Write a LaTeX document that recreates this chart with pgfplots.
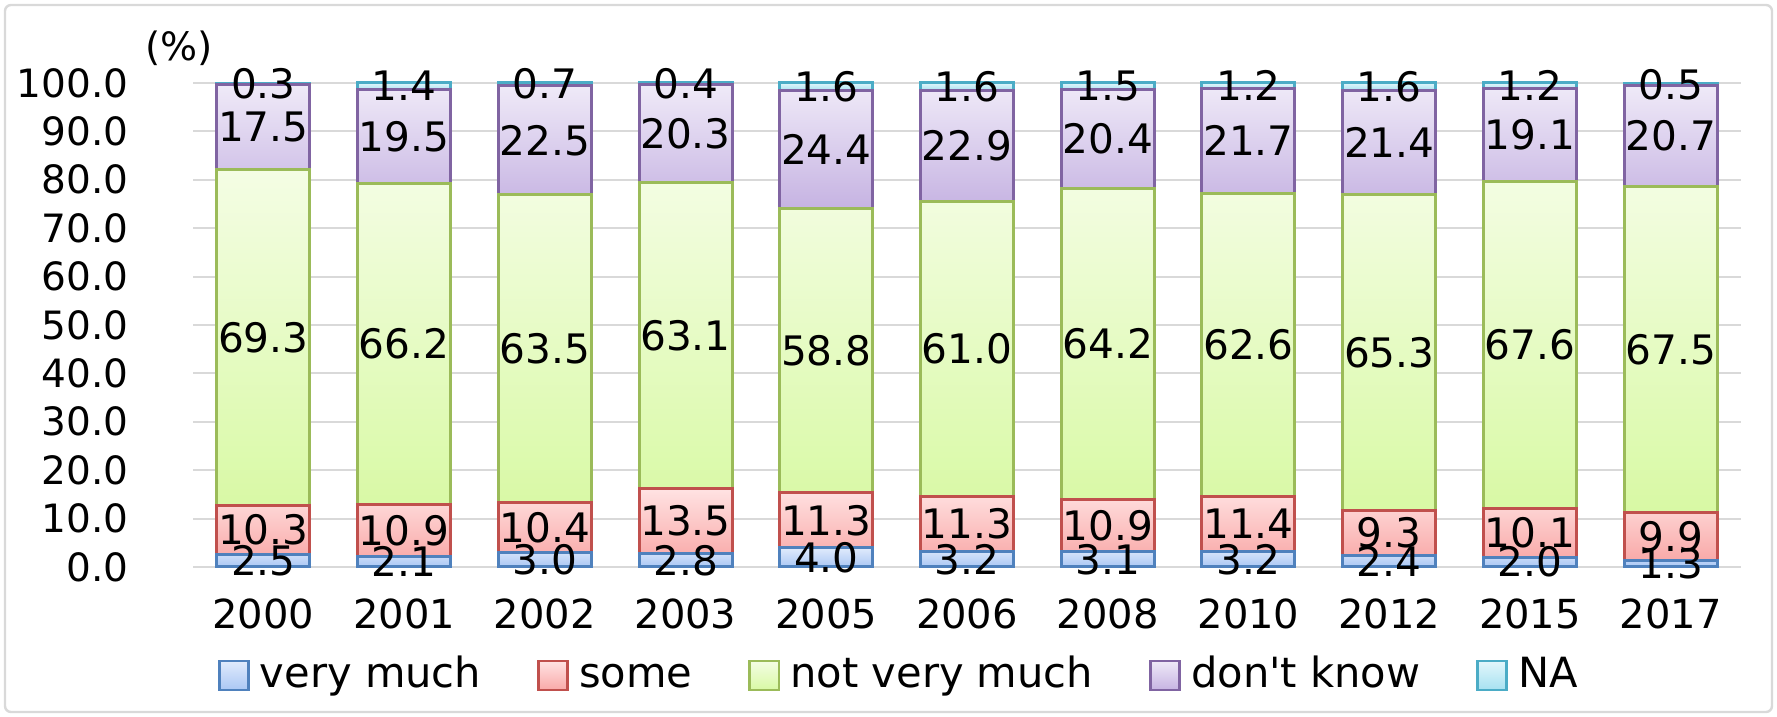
\documentclass[border=0pt]{standalone}
\usepackage{fontspec}
\setmainfont{DejaVu Sans}
\usepackage{pgfplots}
\usepackage{pgfplotstable}
\pgfplotsset{compat=1.18}
\definecolor{cblue}{HTML}{4F81BD}
\definecolor{cred}{HTML}{C0504D}
\definecolor{cgreen}{HTML}{9BBB59}
\definecolor{cpurple}{HTML}{8064A2}
\definecolor{ccyan}{HTML}{4BACC6}
\definecolor{blueT}{HTML}{E1EBFC}
\definecolor{blueB}{HTML}{AAC7F4}
\definecolor{redT}{HTML}{FFE3E3}
\definecolor{redB}{HTML}{F9A9A8}
\definecolor{greenT}{HTML}{F4FDE4}
\definecolor{greenB}{HTML}{D8F9A4}
\definecolor{purpleT}{HTML}{EFEAF8}
\definecolor{purpleB}{HTML}{C6B3E2}
\definecolor{cyanT}{HTML}{E3F7FC}
\definecolor{cyanB}{HTML}{A6E1F0}
\definecolor{framegray}{HTML}{D9D9D9}
\definecolor{gridgray}{HTML}{D9D9D9}

\pgfplotstableread{
x year vm some nvm dk na
0 2000 2.5 10.3 69.3 17.5 0.3
1 2001 2.1 10.9 66.2 19.5 1.4
2 2002 3.0 10.4 63.5 22.5 0.7
3 2003 2.8 13.5 63.1 20.3 0.4
4 2005 4.0 11.3 58.8 24.4 1.6
5 2006 3.2 11.3 61.0 22.9 1.6
6 2008 3.1 10.9 64.2 20.4 1.5
7 2010 3.2 11.4 62.6 21.7 1.2
8 2012 2.4 9.3 65.3 21.4 1.6
9 2015 2.0 10.1 67.6 19.1 1.2
10 2017 1.3 9.9 67.5 20.7 0.5
}\data

\begin{document}
\begin{tikzpicture}[font=\fontsize{19.5}{22}\selectfont]
\useasboundingbox (0,0) rectangle (888.5pt,358.5pt);
\draw[color=framegray, line width=1.2pt, rounded corners=3pt] (2.5pt,2.5pt) rectangle (886pt,356pt);
\pgfplotsset{base/.style={at={(96.5pt,75pt)}, anchor=south west, scale only axis,
  width=774pt, height=242pt, xmin=-0.5, xmax=10.5, ymin=0, ymax=100, clip=false}}
\begin{axis}[base, ybar stacked, bar width=46.5pt,
  axis line style={draw=none}, major tick length=0pt,
  ymajorgrids, grid style={gridgray, line width=1pt},
  xtick={0,...,10},
  xticklabels={2000,2001,2002,2003,2005,2006,2008,2010,2012,2015,2017},
  ytick={0,10,...,100},
  yticklabel style={anchor=east, inner xsep=0pt, xshift=-32pt, font=\fontsize{19.5}{22}\selectfont,
    /pgf/number format/.cd, fixed, fixed zerofill, precision=1, assume math mode=true},
  xticklabel style={inner ysep=0pt, yshift=-15.5pt, font=\fontsize{20}{22}\selectfont},
  legend columns=5,
  legend style={draw=none, fill=none, at={(0.012,-0.229)}, anchor=west,
    /tikz/every even column/.append style={column sep=26pt},
    nodes={text height=0.75em, text depth=0.22em},
    font=\fontsize{20.8}{23}\selectfont},
  legend image code/.code={\draw[#1, line width=1.3pt] (0pt,-3.9pt) rectangle (14.6pt,10.7pt);
    \path (17.6pt,0pt);},
]
\addplot[draw=cblue, line width=1.5pt, top color=blueT, bottom color=blueB] table[x=x,y=vm]{\data};
\addplot[draw=cred, line width=1.5pt, top color=redT, bottom color=redB] table[x=x,y=some]{\data};
\addplot[draw=cgreen, line width=1.5pt, top color=greenT, bottom color=greenB] table[x=x,y=nvm]{\data};
\addplot[draw=cpurple, line width=1.5pt, top color=purpleT, bottom color=purpleB] table[x=x,y=dk]{\data};
\addplot[draw=ccyan, line width=1.5pt, top color=cyanT, bottom color=cyanB] table[x=x,y=na]{\data};
\legend{very much, some, not very much, don\textquotesingle t know, NA}
\node[anchor=center] at (rel axis cs:-0.009,1.072) {(\%)};
\end{axis}
\begin{axis}[base, hide axis, point meta=explicit symbolic, nodes near coords,
  every node near coord/.append style={anchor=center, black, inner sep=0pt,
    font=\fontsize{20.3}{22}\selectfont}]
\addplot[only marks, mark=none] table[x=x, y expr=\thisrow{vm}/2, meta=vm]{\data};
\addplot[only marks, mark=none] table[x=x, y expr=\thisrow{vm}+\thisrow{some}/2, meta=some]{\data};
\addplot[only marks, mark=none] table[x=x, y expr=\thisrow{vm}+\thisrow{some}+\thisrow{nvm}/2, meta=nvm]{\data};
\addplot[only marks, mark=none] table[x=x, y expr=\thisrow{vm}+\thisrow{some}+\thisrow{nvm}+\thisrow{dk}/2, meta=dk]{\data};
\addplot[only marks, mark=none] table[x=x, y expr=\thisrow{vm}+\thisrow{some}+\thisrow{nvm}+\thisrow{dk}+\thisrow{na}/2, meta=na]{\data};
\end{axis}
\end{tikzpicture}
\end{document}
